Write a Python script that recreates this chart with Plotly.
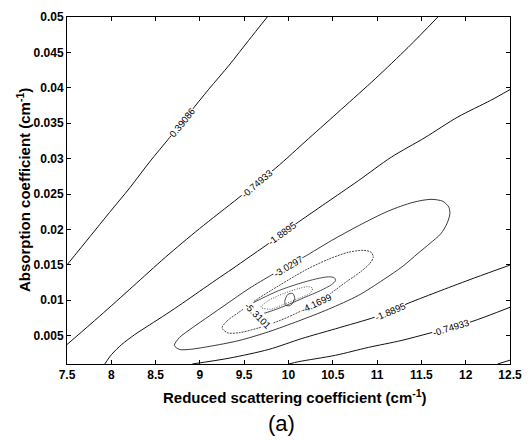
import plotly.graph_objects as go

# ---- data (x: reduced scattering coeff, y: absorption coeff) ----
x_ticks = [7.5, 8, 8.5, 9, 9.5, 10, 10.5, 11, 11.5, 12, 12.5]
x_ticklabels = ["7.5", "8", "8.5", "9", "9.5", "10", "10.5", "11", "11.5", "12", "12.5"]
y_ticks = [0.005, 0.01, 0.015, 0.02, 0.025, 0.03, 0.035, 0.04, 0.045, 0.05]
y_ticklabels = ["0.005", "0.01", "0.015", "0.02", "0.025", "0.03", "0.035", "0.04", "0.045", "0.05"]

# level 0.39086
c1_x = [7.5, 7.76, 7.98, 8.21, 8.43, 8.66, 8.88, 9.10, 9.33, 9.55, 9.76]
c1_y = [0.0150, 0.0190, 0.0224, 0.0259, 0.0295, 0.0330, 0.0364, 0.0398, 0.0432, 0.0467, 0.0500]
c1b_x = [12.36, 12.5]
c1b_y = [0.0010, 0.00154]

# level -0.74933 (upper and lower branch)
c2a_x = [7.5, 7.870, 8.241, 8.611, 8.993, 9.442, 9.857, 10.227, 10.598, 10.979, 11.350, 11.686]
c2a_y = [0.00375, 0.00777, 0.01192, 0.01608, 0.02009, 0.02452, 0.02868, 0.03283, 0.03698, 0.04128, 0.04571, 0.0500]
c2b_x = [10.003, 10.115, 10.530, 10.901, 11.271, 11.608, 12.057, 12.5]
c2b_y = [0.0010, 0.00133, 0.00223, 0.00334, 0.00431, 0.00541, 0.00694, 0.00901]

# level -1.8895 (upper and lower branch)
c3a_x = [7.926, 8.005, 8.117, 8.263, 8.432, 8.622, 8.802, 8.993, 9.184, 9.363, 9.554, 9.745,
         9.924, 10.081, 10.418, 10.788, 11.159, 11.540, 11.911, 12.282, 12.5]
c3a_y = [0.0010, 0.00237, 0.00375, 0.00514, 0.00652, 0.00805, 0.00957, 0.01123, 0.01289, 0.01441,
         0.01608, 0.01774, 0.0194, 0.02078, 0.02369, 0.02688, 0.0302, 0.03297, 0.03588, 0.03823, 0.03975]
c3b_x = [8.914, 9.329, 9.778, 10.149, 10.530, 10.979, 11.148, 11.350, 11.720, 12.102, 12.5]
c3b_y = [0.0010, 0.00182, 0.00306, 0.00459, 0.00597, 0.00763, 0.00846, 0.00957, 0.01137, 0.01317, 0.01497]

# level -3.0297 (closed)
c4_x = [8.712, 8.768, 8.914, 9.105, 9.296, 9.554, 9.812, 9.992, 10.171, 10.485, 10.788, 11.125,
        11.406, 11.608, 11.742, 11.810, 11.821, 11.787, 11.720, 11.596, 11.462, 11.293, 11.069,
        10.788, 10.452, 10.115, 9.778, 9.441, 9.105, 8.881, 8.768, 8.712]
c4_y = [0.00362, 0.00472, 0.00611, 0.00777, 0.00943, 0.01165, 0.01359, 0.01483, 0.01608, 0.01843,
        0.02051, 0.02259, 0.02383, 0.02425, 0.02397, 0.02314, 0.02217, 0.02079, 0.01940, 0.01802,
        0.01663, 0.01483, 0.01289, 0.01068, 0.00874, 0.00708, 0.00556, 0.00431, 0.00348, 0.00306,
        0.00306, 0.00362]

# level -4.1699 (closed)
c5_x = [9.251, 9.307, 9.442, 9.644, 9.891, 10.194, 10.452, 10.676, 10.845, 10.934, 10.957, 10.912,
        10.811, 10.654, 10.474, 10.306, 10.115, 9.891, 9.666, 9.442, 9.307, 9.251]
c5_y = [0.00611, 0.00708, 0.00832, 0.01013, 0.01206, 0.01428, 0.01580, 0.01677, 0.01705, 0.01677,
        0.01608, 0.01511, 0.01400, 0.01262, 0.01096, 0.00957, 0.00832, 0.00708, 0.00611, 0.00542,
        0.00542, 0.00611]

# level -5.3101 (closed)
c6_x = [9.520, 9.576, 9.700, 9.891, 10.115, 10.317, 10.452, 10.519, 10.530, 10.485, 10.362, 10.182,
        10.003, 9.834, 9.689, 9.576, 9.520]
c6_y = [0.00860, 0.00943, 0.01026, 0.01137, 0.01234, 0.01303, 0.01331, 0.01317, 0.01276, 0.01220,
        0.01137, 0.01040, 0.00943, 0.00860, 0.00805, 0.00791, 0.00860]

# level -6.4503 (closed)
c7_x = [9.689, 9.778, 9.947, 10.115, 10.227, 10.272, 10.239, 10.115, 9.947, 9.801, 9.689]
c7_y = [0.00902, 0.00999, 0.01096, 0.01165, 0.01193, 0.01165, 0.01096, 0.01026, 0.00943, 0.00874, 0.00902]

# level -7.5905 (tiny closed)
c8_x = [9.958, 9.992, 10.048, 10.070, 10.025, 9.969, 9.958]
c8_y = [0.00985, 0.01082, 0.01096, 0.01026, 0.00929, 0.00929, 0.00985]

# contour labels: text, x, y, rotation
label_text = ["0.39086", "-0.74933", "-1.8895", "-3.0297", "-4.1699", "-5.3101", "-1.8895", "-0.74933"]
label_x = [8.80, 9.644, 9.924, 9.992, 10.306, 9.655, 11.148, 11.832]
label_y = [0.0351, 0.0265, 0.0194, 0.01483, 0.00957, 0.00791, 0.00846, 0.00622]
label_rot = [-51, -41, -36, -31, -25, 45, -23, -17]

# ---- figure ----
fig = go.Figure()

paths = [
    (c1_x, c1_y, "#111", "solid", 1.0),
    (c1b_x, c1b_y, "#111", "solid", 1.0),
    (c2a_x, c2a_y, "#111", "solid", 1.0),
    (c2b_x, c2b_y, "#111", "solid", 1.0),
    (c3a_x, c3a_y, "#111", "solid", 1.0),
    (c3b_x, c3b_y, "#111", "solid", 1.0),
    (c4_x, c4_y, "#222", "solid", 0.9),
    (c5_x, c5_y, "#333", "2px,1px", 0.9),
    (c6_x, c6_y, "#222", "solid", 0.8),
    (c7_x, c7_y, "#444", "1px,1.5px", 0.9),
    (c8_x, c8_y, "#222", "solid", 0.8),
]
for px, py, col, dash, w in paths:
    fig.add_trace(go.Scatter(x=px, y=py, mode="lines",
                             line=dict(color=col, width=w, dash=dash, shape="spline", smoothing=0.8),
                             hoverinfo="skip", showlegend=False))

for t, lx, ly, r in zip(label_text, label_x, label_y, label_rot):
    fig.add_annotation(x=lx, y=ly, xref="x", yref="y", text=t, showarrow=False,
                       textangle=r, bgcolor="white", borderpad=0,
                       font=dict(family="Liberation Sans, Arial", size=9.5, color="black"))

axis_common = dict(showline=True, linecolor="black", linewidth=1, mirror="ticks",
                   ticks="inside", ticklen=4, tickcolor="black", showgrid=False, zeroline=False,
                   tickfont=dict(family="Liberation Sans, Arial", size=12, color="black"))

fig.update_xaxes(range=[7.5, 12.5], tickvals=x_ticks,
                 ticktext=["<b>%s</b>" % s for s in x_ticklabels], **axis_common)
fig.update_yaxes(range=[0.001, 0.05], tickvals=y_ticks,
                 ticktext=["<b>%s</b>" % s for s in y_ticklabels], **axis_common)

fig.add_annotation(xref="paper", yref="paper", x=0.514, y=-0.093, showarrow=False,
                   text="<b>Reduced scattering coefficient (cm<sup>-1</sup>)</b>",
                   font=dict(family="Liberation Sans, Arial", size=15, color="black"),
                   xanchor="center", yanchor="middle")
fig.add_annotation(xref="paper", yref="paper", x=-0.098, y=0.5, showarrow=False, textangle=-90,
                   text="<b>Absorption coefficient (cm<sup>-1</sup>)</b>",
                   font=dict(family="Liberation Sans, Arial", size=15, color="black"),
                   xanchor="center", yanchor="middle")
fig.add_annotation(xref="paper", yref="paper", x=0.485, y=-0.172, showarrow=False,
                   text="(a)", font=dict(family="Liberation Sans, Arial", size=22, color="black"),
                   xanchor="center", yanchor="middle")

fig.update_layout(width=532, height=443, autosize=False,
                  margin=dict(l=67, r=20, t=10, b=79),
                  paper_bgcolor="white", plot_bgcolor="white", showlegend=False)

fig.write_html("out.html", config={"displayModeBar": False})
